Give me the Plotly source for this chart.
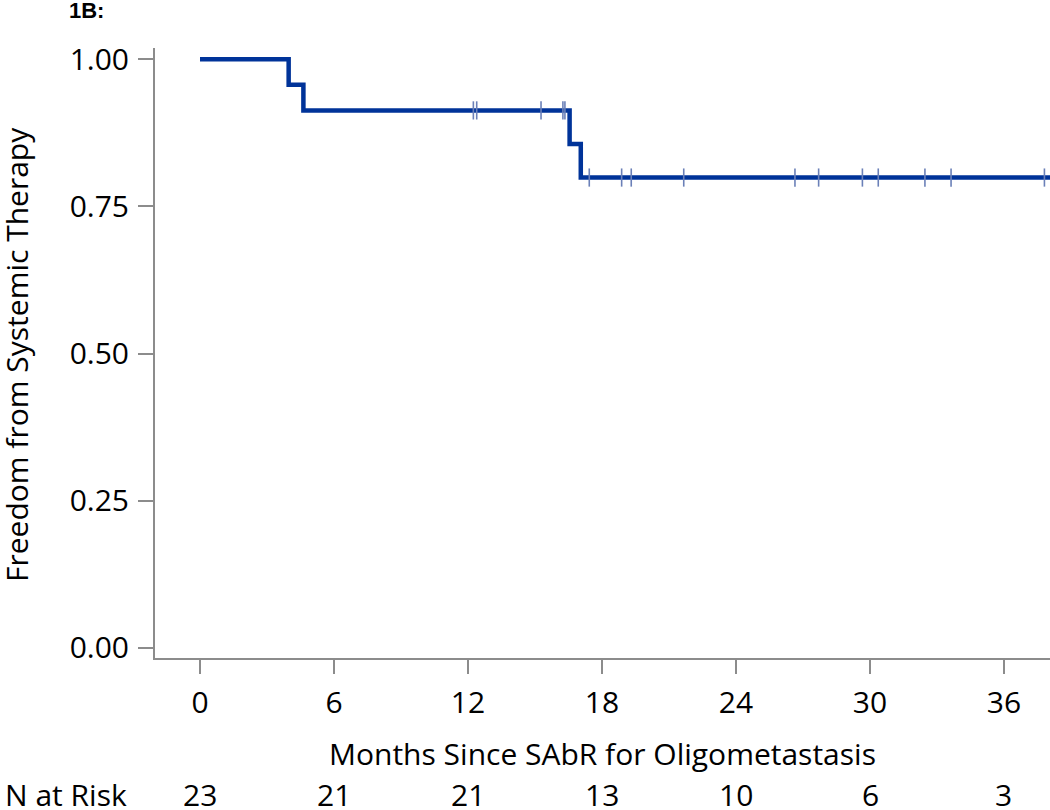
import plotly.graph_objects as go

# Kaplan-Meier step curve
step_months = [0, 3.97, 4.63, 16.55, 17.05, 38.2]
step_surv = [1.0, 0.9565, 0.913, 0.856, 0.799, 0.799]

# Censored observations (months, survival level at that time)
censor_months = [12.24, 12.39, 15.27, 16.25, 16.34, 17.43, 18.88, 19.31, 21.66,
                 26.64, 27.70, 29.66, 30.37, 32.46, 33.63, 37.81]
censor_surv = [0.913, 0.913, 0.913, 0.913, 0.913, 0.799, 0.799, 0.799, 0.799,
               0.799, 0.799, 0.799, 0.799, 0.799, 0.799, 0.799]

x_ticks = [0, 6, 12, 18, 24, 30, 36]
y_ticks = [0.0, 0.25, 0.5, 0.75, 1.0]
y_tick_labels = ["0.00", "0.25", "0.50", "0.75", "1.00"]
n_at_risk = [23, 21, 21, 13, 10, 6, 3]

FONT = "Open Sans"
FS = 30
LINE_COLOR = "#003399"
AXIS_COLOR = "#8c8c8c"

fig = go.Figure()
fig.add_trace(go.Scatter(
    x=step_months, y=step_surv, mode="lines",
    line=dict(shape="hv", color=LINE_COLOR, width=4.5),
    hoverinfo="skip", showlegend=False,
))
fig.add_trace(go.Scatter(
    x=censor_months, y=censor_surv, mode="markers",
    marker=dict(symbol="line-ns", size=13, line=dict(color="#6b80b8", width=1.6)),
    showlegend=False,
))

annotations = []
for xv, n in zip(x_ticks, n_at_risk):
    annotations.append(dict(x=xv, y=-0.2245, xref="x", yref="paper", text=str(n),
                            showarrow=False, xanchor="center", yanchor="middle",
                            font=dict(family=FONT, size=FS, color="black")))
annotations.append(dict(x=-0.1700, y=-0.2245, xref="paper", yref="paper", text="N at Risk",
                        showarrow=False, xanchor="left", yanchor="middle",
                        font=dict(family=FONT, size=FS, color="black")))
annotations.append(dict(x=0.5, y=-0.157, xref="paper", yref="paper",
                        text="Months Since SAbR for Oligometastasis",
                        showarrow=False, xanchor="center", yanchor="middle",
                        font=dict(family=FONT, size=FS, color="black")))
annotations.append(dict(x=-0.1555, y=0.498, xref="paper", yref="paper",
                        text="Freedom from Systemic Therapy", textangle=-90,
                        showarrow=False, xanchor="center", yanchor="middle",
                        font=dict(family=FONT, size=FS, color="black")))
annotations.append(dict(x=-0.0983, y=1.0607, xref="paper", yref="paper", text="<b>1B:</b>",
                        showarrow=False, xanchor="left", yanchor="middle",
                        font=dict(family="Liberation Sans", size=22, color="black")))

fig.update_layout(
    width=1050, height=810,
    margin=dict(l=155, r=0, t=48, b=152),
    paper_bgcolor="white", plot_bgcolor="white",
    annotations=annotations,
    xaxis=dict(range=[-2.015, 38.06], tickvals=x_ticks, ticks="outside", ticklen=14,
               tickwidth=1.5, tickcolor=AXIS_COLOR, showline=True, linecolor=AXIS_COLOR,
               linewidth=2, showgrid=False, zeroline=False, ticklabelstandoff=3,
               tickfont=dict(family=FONT, size=FS, color="black")),
    yaxis=dict(range=[-0.017, 1.019], tickvals=y_ticks, ticktext=y_tick_labels,
               ticks="outside", ticklen=15, tickwidth=1.5, tickcolor=AXIS_COLOR,
               showline=True, linecolor=AXIS_COLOR, linewidth=2, showgrid=False,
               zeroline=False, ticklabelstandoff=3,
               tickfont=dict(family=FONT, size=FS, color="black")),
)

fig.write_html(
    "out.html",
    config={"displayModeBar": False},
    post_script="document.body.style.margin='0';document.body.style.overflow='hidden';",
)
